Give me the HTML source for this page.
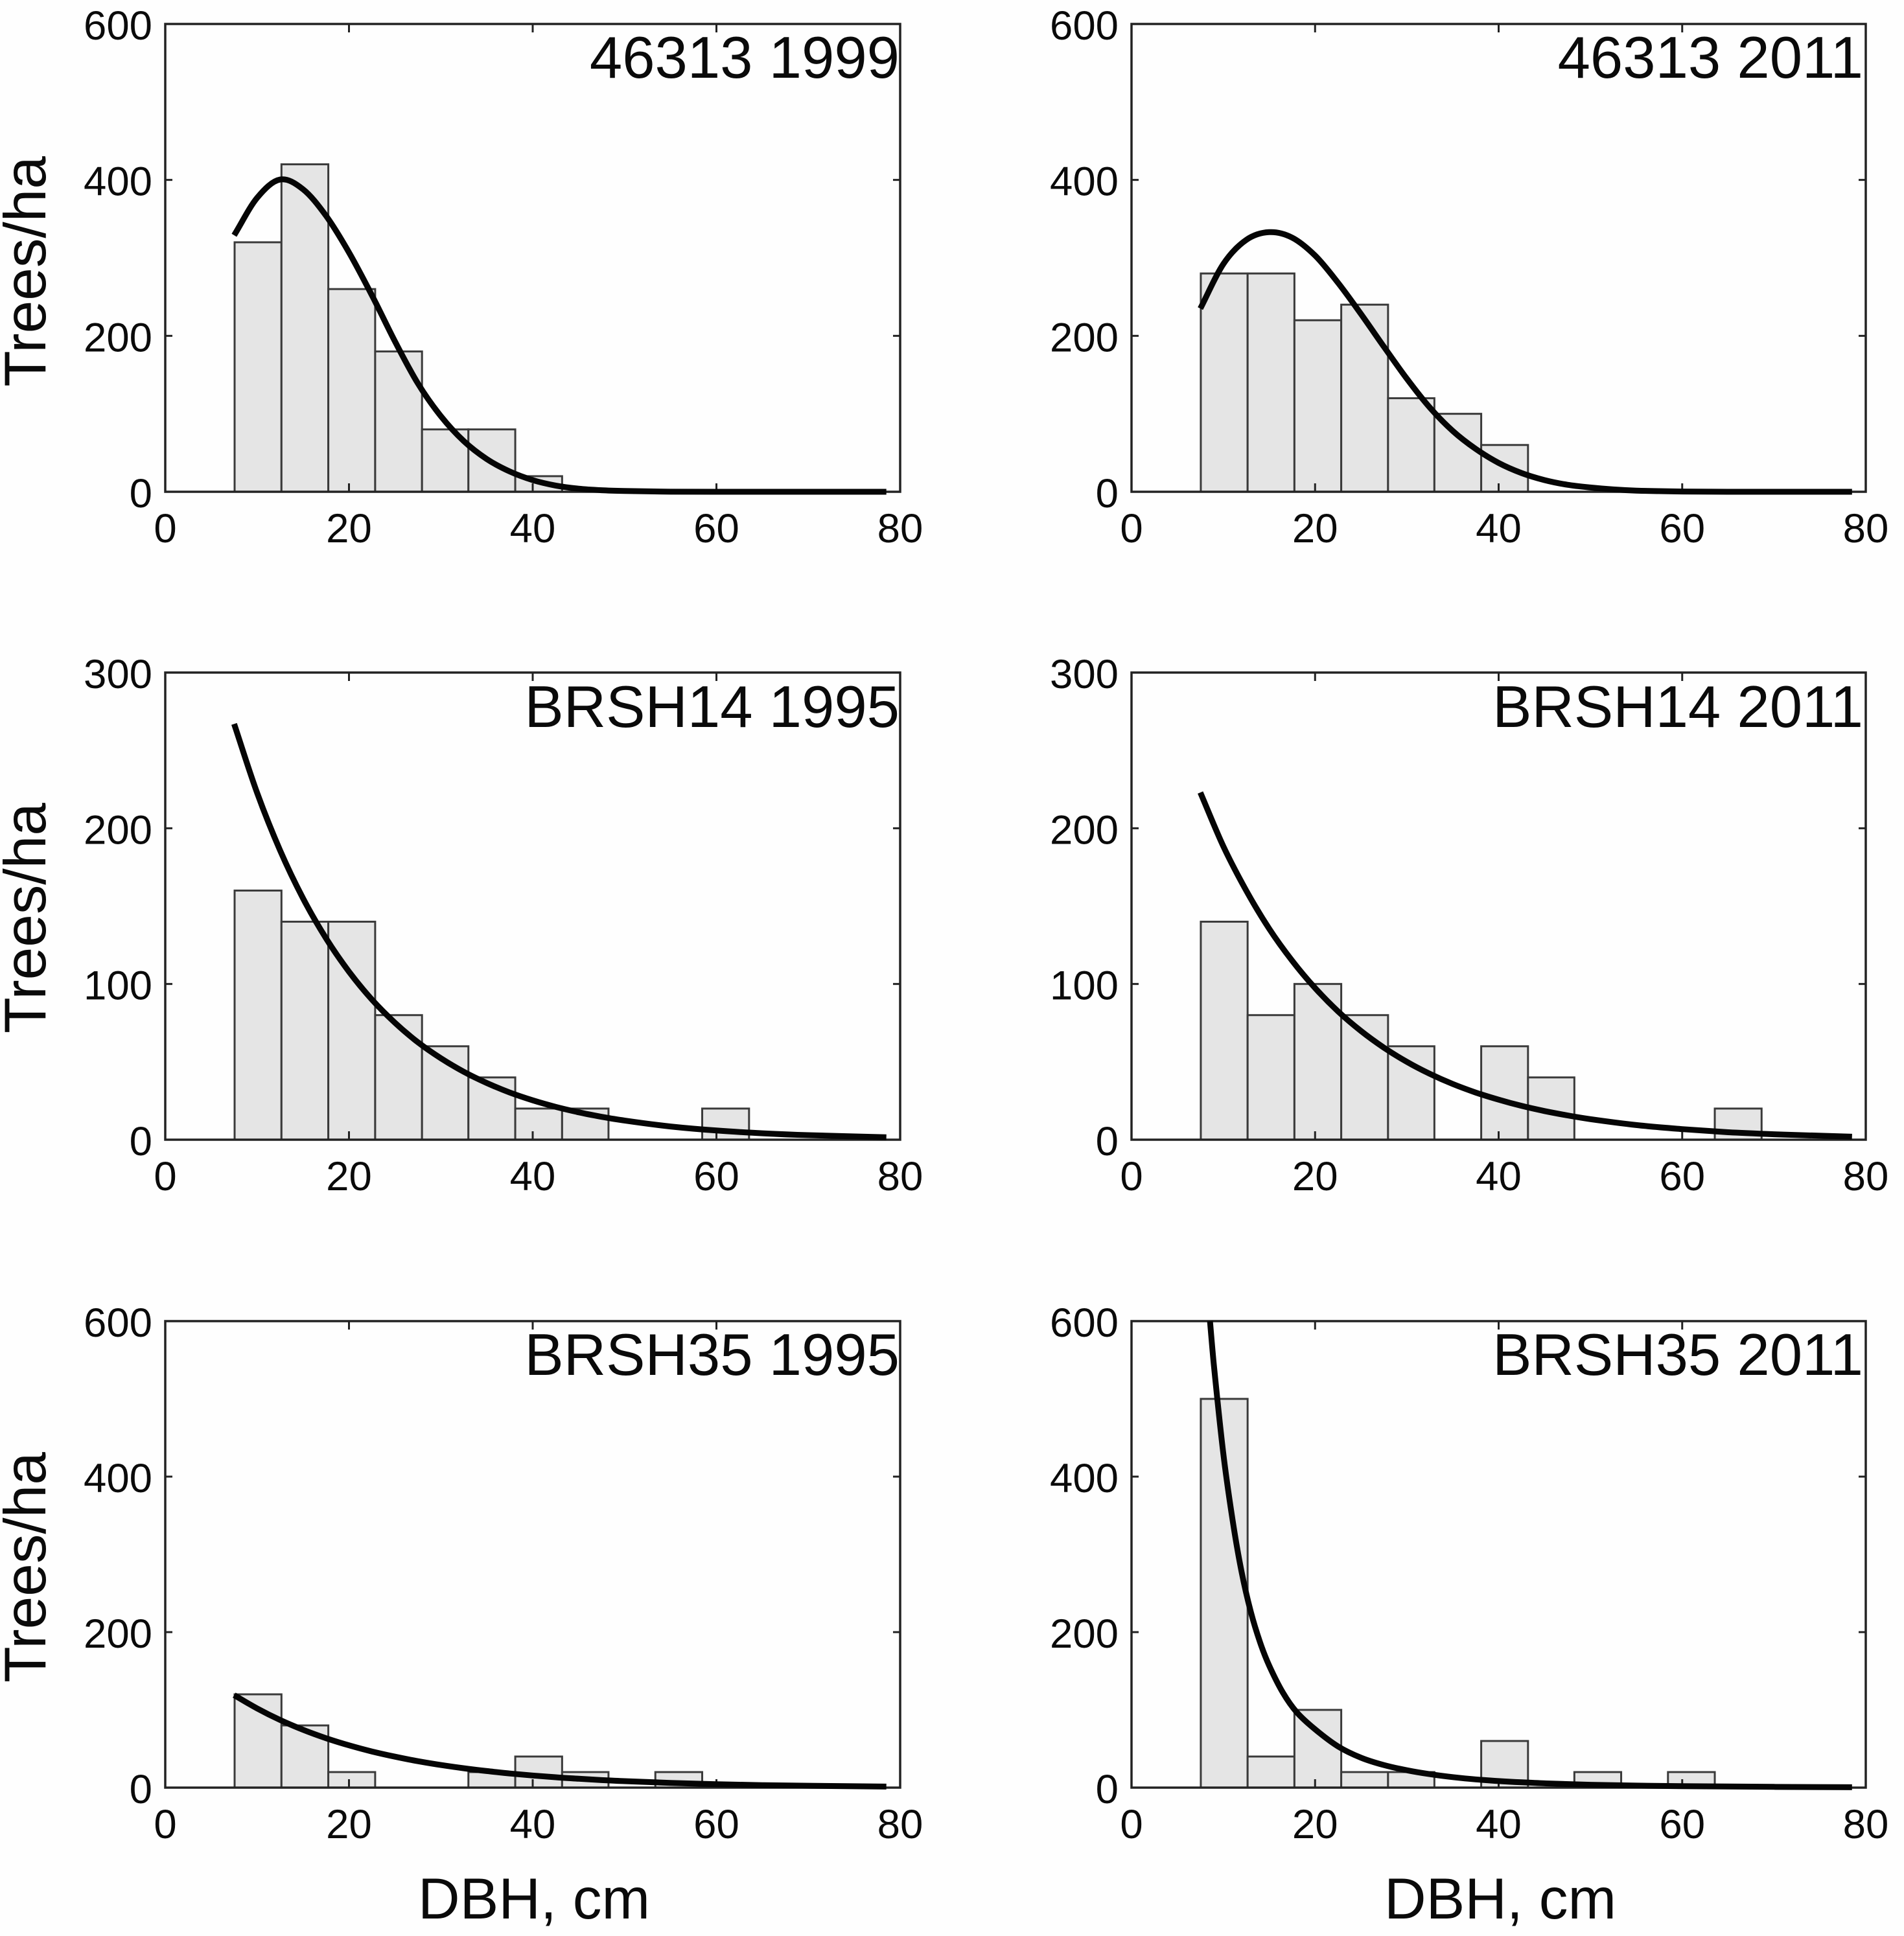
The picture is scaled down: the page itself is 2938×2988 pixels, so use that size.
<!DOCTYPE html>
<html lang="en">
<head>
<meta charset="utf-8">
<title>Diameter distributions by plot and year</title>
<style>
html,body{margin:0;padding:0;background:#fefefe;}
svg{display:block;}
text{font-family:"Liberation Sans",Arial,sans-serif;fill:#0a0a0a;}
.tick-label{font-size:63.5px;}
.panel-title{font-size:90.5px;text-anchor:end;}
.axis-title{font-size:89.5px;text-anchor:middle;}
.y-title{font-size:91px;text-anchor:middle;}
</style>
</head>
<body>
<svg id="chart" xmlns="http://www.w3.org/2000/svg" width="2938" height="2988" viewBox="0 0 2938 2988">
  <rect x="0" y="0" width="2938" height="2988" fill="#fefefe"/>
  <g id="panel-0"></g>
  <g id="panel-1"></g>
  <g id="panel-2"></g>
  <g id="panel-3"></g>
  <g id="panel-4"></g>
  <g id="panel-5"></g>

  <text class="panel-title" x="1388" y="120">46313 1999</text>
  <text class="panel-title" x="2875" y="120">46313 2011</text>
  <text class="panel-title" x="1388" y="1122">BRSH14 1995</text>
  <text class="panel-title" x="2875" y="1122">BRSH14 2011</text>
  <text class="panel-title" x="1388" y="2122">BRSH35 1995</text>
  <text class="panel-title" x="2875" y="2122">BRSH35 2011</text>

  <text class="y-title" transform="translate(70 419) rotate(-90)">Trees/ha</text>
  <text class="y-title" transform="translate(70 1417) rotate(-90)">Trees/ha</text>
  <text class="y-title" transform="translate(70 2419) rotate(-90)">Trees/ha</text>
  <text class="axis-title" x="824" y="2961">DBH, cm</text>
  <text class="axis-title" x="2315" y="2961">DBH, cm</text>
</svg>

<script>
// Histogram bin edges (DBH, cm)
const binEdges = [7.55, 12.65, 17.75, 22.85, 27.95, 33, 38.1, 43.2, 48.25, 53.35, 58.45, 63.55, 68.65];

// Axis tick labels
const xTickLabels = [0, 20, 40, 60, 80];
const yTicksWide = [0, 200, 400, 600];
const yTicksNarrow = [0, 100, 200, 300];

// Histogram values (trees/ha per bin)
const bars46313y1999 = [320, 420, 260, 180, 80, 80, 20];
const bars46313y2011 = [280, 280, 220, 240, 120, 100, 60];
const barsBrsh14y1995 = [160, 140, 140, 80, 60, 40, 20, 20, 0, 0, 20];
const barsBrsh14y2011 = [140, 80, 100, 80, 60, 0, 60, 40, 0, 0, 0, 20];
const barsBrsh35y1995 = [120, 80, 20, 0, 0, 20, 40, 20, 0, 20];
const barsBrsh35y2011 = [500, 40, 100, 20, 20, 0, 60, 0, 20, 0, 20];

// Fitted curves
const curveX46313y1999 = [7.5, 10, 12.5, 15, 17.5, 20, 22.5, 25, 27.5, 30, 32.5, 35, 37.5, 40, 42.5, 45, 47.5, 50, 55, 60, 78.5];
const curveY46313y1999 = [329, 377, 400.5, 388, 354, 307, 252, 193, 139, 97, 65, 42, 26, 15, 8, 4, 2, 1, 0.1, 0, 0];

const curveX46313y2011 = [7.5, 10, 12.5, 15, 17.5, 20, 22.5, 25, 27.5, 30, 32.5, 35, 37.5, 40, 42.5, 45, 47.5, 50, 52.5, 55, 60, 65, 78.5];
const curveY46313y2011 = [235, 292, 323, 333, 326, 303, 268, 228, 186, 145, 108, 78, 55, 37, 24, 15, 9, 5.5, 3, 1.5, 0.3, 0, 0];

const curveXBrsh14y1995 = [7.5, 10, 12.5, 15, 17.5, 20, 22.5, 25, 27.5, 30, 32.5, 35, 37.5, 40, 42.5, 45, 47.5, 50, 55, 60, 65, 70, 78.5];
const curveYBrsh14y1995 = [267, 222.7, 185.8, 155, 129.3, 107.9, 90, 75.1, 62.6, 52.3, 43.6, 36.4, 30.3, 25.3, 21.1, 17.6, 14.7, 12.3, 8.5, 5.9, 4.1, 2.9, 1.6];

const curveXBrsh14y2011 = [7.5, 10, 12.5, 15, 17.5, 20, 22.5, 25, 27.5, 30, 32.5, 35, 37.5, 40, 42.5, 45, 47.5, 50, 55, 60, 65, 70, 78.5];
const curveYBrsh14y2011 = [223, 188.5, 160, 135.5, 115, 97.4, 82.4, 69.8, 59.1, 50, 42.3, 35.8, 30.3, 25.7, 21.7, 18.4, 15.6, 13.2, 9.4, 6.8, 4.8, 3.5, 1.9];

const curveXBrsh35y1995 = [7.5, 10, 12.5, 15, 17.5, 20, 22.5, 25, 27.5, 30, 32.5, 35, 37.5, 40, 42.5, 45, 47.5, 50, 55, 60, 65, 70, 78.5];
const curveYBrsh35y1995 = [119, 101.8, 87, 74.4, 63.6, 54.4, 46.5, 39.8, 34, 29.1, 24.9, 21.3, 18.2, 15.6, 13.3, 11.4, 9.7, 8.3, 6.1, 4.4, 3.2, 2.4, 1.3];

const curveXBrsh35y2011 = [8.55, 9, 10, 11, 12, 13, 14, 15, 16.5, 18, 20, 22.5, 25, 27.5, 30, 32.5, 35, 37.5, 40, 42.5, 45, 50, 55, 60, 70, 78.5];
const curveYBrsh35y2011 = [600, 540, 430, 345, 277, 226, 187, 157, 122, 97, 75, 53, 38.5, 29, 22.3, 17.3, 13.5, 10.6, 8.4, 6.8, 5.5, 3.7, 2.6, 1.9, 1, 0.5];

// Axis domains
const xDomainMax = 80;
const wideYMax = 600;
const narrowYMax = 300;

const panelDefs = [
  {box: {l: 255, r: 1389, t: 37, b: 759},    yMax: wideYMax,   yTicks: yTicksWide,   bars: bars46313y1999,  cx: curveX46313y1999,  cy: curveY46313y1999},
  {box: {l: 1746, r: 2879, t: 37, b: 759},   yMax: wideYMax,   yTicks: yTicksWide,   bars: bars46313y2011,  cx: curveX46313y2011,  cy: curveY46313y2011},
  {box: {l: 255, r: 1389, t: 1038, b: 1759}, yMax: narrowYMax, yTicks: yTicksNarrow, bars: barsBrsh14y1995, cx: curveXBrsh14y1995, cy: curveYBrsh14y1995},
  {box: {l: 1746, r: 2879, t: 1038, b: 1759},yMax: narrowYMax, yTicks: yTicksNarrow, bars: barsBrsh14y2011, cx: curveXBrsh14y2011, cy: curveYBrsh14y2011},
  {box: {l: 255, r: 1389, t: 2039, b: 2759}, yMax: wideYMax,   yTicks: yTicksWide,   bars: barsBrsh35y1995, cx: curveXBrsh35y1995, cy: curveYBrsh35y1995},
  {box: {l: 1746, r: 2879, t: 2039, b: 2759},yMax: wideYMax,   yTicks: yTicksWide,   bars: barsBrsh35y2011, cx: curveXBrsh35y2011, cy: curveYBrsh35y2011}
];

const SVG_NS = 'http://www.w3.org/2000/svg';
const FRAME_COLOR = '#222';
const BAR_STROKE = '#3a3a3a';
const BAR_FILL = '#e5e5e5';

function make(tag, attrs, parent) {
  const el = document.createElementNS(SVG_NS, tag);
  for (const k in attrs) el.setAttribute(k, attrs[k]);
  parent.appendChild(el);
  return el;
}

function curvePath(xs, ys, sx, sy) {
  // Hermite spline through the read points
  const slope = i => {
    const a = Math.max(i - 1, 0), b = Math.min(i + 1, xs.length - 1);
    return (ys[b] - ys[a]) / (xs[b] - xs[a]);
  };
  let d = 'M' + sx(xs[0]).toFixed(1) + ' ' + sy(ys[0]).toFixed(1);
  for (let i = 0; i < xs.length - 1; i++) {
    const h = (xs[i + 1] - xs[i]) / 3;
    d += ' C' + sx(xs[i] + h).toFixed(1) + ' ' + sy(Math.max(ys[i] + slope(i) * h, 0)).toFixed(1) +
         ' ' + sx(xs[i + 1] - h).toFixed(1) + ' ' + sy(Math.max(ys[i + 1] - slope(i + 1) * h, 0)).toFixed(1) +
         ' ' + sx(xs[i + 1]).toFixed(1) + ' ' + sy(ys[i + 1]).toFixed(1);
  }
  return d;
}

panelDefs.forEach((p, pi) => {
  const g = document.getElementById('panel-' + pi);
  const b = p.box;
  const sx = v => b.l + (v / xDomainMax) * (b.r - b.l);
  const sy = v => b.b - (v / p.yMax) * (b.b - b.t);

  // Histogram bars
  p.bars.forEach((v, i) => {
    if (v <= 0) return;
    const bar = make('rect', {
      x: sx(binEdges[i]), y: sy(v),
      width: sx(binEdges[i + 1]) - sx(binEdges[i]),
      height: sy(0) - sy(v),
      fill: BAR_FILL, stroke: BAR_STROKE, 'stroke-width': 3
    }, g);
    
    
  });

  // Plot frame
  const frame = make('rect', {
    x: b.l, y: b.t, width: b.r - b.l, height: b.b - b.t,
    fill: 'none', stroke: FRAME_COLOR, 'stroke-width': 3.5
  }, g);
  
  

  // X ticks and labels
  xTickLabels.forEach(v => {
    const x = sx(v);
    if (v > 0 && v < xDomainMax) {
      const tb = make('line', {x1: x, x2: x, y1: b.b, y2: b.b - 13, stroke: FRAME_COLOR, 'stroke-width': 3}, g);
      
      
      const tt = make('line', {x1: x, x2: x, y1: b.t, y2: b.t + 13, stroke: FRAME_COLOR, 'stroke-width': 3}, g);
      
      
    }
    const lab = make('text', {class: 'tick-label', x: x, y: b.b + 78, 'text-anchor': 'middle'}, g);
    lab.textContent = String(v);
    
    
  });

  // Y ticks and labels
  p.yTicks.forEach(v => {
    const y = sy(v);
    if (v > 0 && v < p.yMax) {
      const tl = make('line', {x1: b.l, x2: b.l + 11, y1: y, y2: y, stroke: FRAME_COLOR, 'stroke-width': 3}, g);
      
      
      const tr = make('line', {x1: b.r, x2: b.r - 11, y1: y, y2: y, stroke: FRAME_COLOR, 'stroke-width': 3}, g);
      
      
    }
    const lab = make('text', {class: 'tick-label', x: b.l - 20, y: y + 24, 'text-anchor': 'end'}, g);
    lab.textContent = String(v);
    
    
  });

  // Fitted curve
  const curve = make('path', {
    d: curvePath(p.cx, p.cy, sx, sy),
    fill: 'none', stroke: '#050505', 'stroke-width': 9, 'stroke-linejoin': 'round'
  }, g);
  
  
});
</script>
</body>
</html>
